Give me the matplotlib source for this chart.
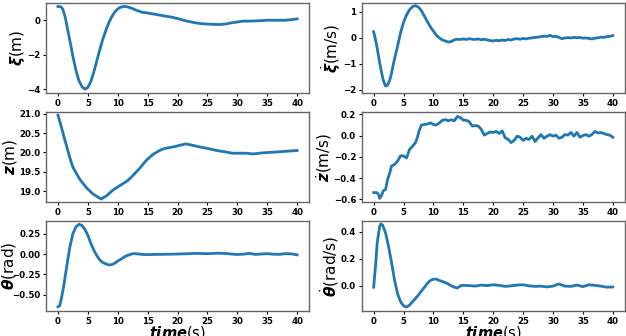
import matplotlib
matplotlib.use("Agg")
import matplotlib.pyplot as plt

# xi (m)
t_xi = [0, 0.5, 0.8, 1.2, 1.6, 2, 2.5, 3, 3.5, 4, 4.5, 5, 5.5, 6, 6.5, 7, 7.5, 8, 8.5, 9,
        9.5, 10, 10.5, 11, 11.5, 12, 13, 14, 15, 16, 17, 18, 19, 20, 21, 22, 23, 24, 25,
        26, 27, 28, 29, 30, 31, 32, 33, 34, 35, 36, 37, 38, 39, 40]
xi = [0.80, 0.78, 0.65, 0.2, -0.5, -1.2, -2.1, -2.9, -3.5, -3.85, -4.0, -3.9, -3.55, -3.0,
      -2.35, -1.7, -1.1, -0.6, -0.15, 0.2, 0.48, 0.66, 0.76, 0.80, 0.79, 0.74, 0.6, 0.47,
      0.42, 0.36, 0.3, 0.24, 0.18, 0.1, 0.0, -0.08, -0.15, -0.2, -0.22, -0.24, -0.25, -0.22,
      -0.15, -0.1, -0.05, -0.05, -0.04, -0.02, 0.0, 0.0, 0.0, 0.0, 0.03, 0.08]

# xi dot (m/s)
t_xid = [0, 0.3, 0.6, 1.0, 1.3, 1.6, 2.0, 2.3, 2.7, 3.0, 3.3, 3.6, 4.0, 4.5, 5.0, 5.5, 6.0,
         6.5, 7.0, 7.5, 8.0, 8.5, 9.0, 9.5, 10.0, 10.5, 11.0, 11.5, 12.0, 12.5, 13.0, 13.5,
         14.0, 14.5, 15, 15.5, 16, 16.5, 17, 17.5, 18, 18.5, 19, 19.5, 20, 20.5, 21, 21.5,
         22, 22.5, 23, 23.5, 24, 24.5, 25, 25.5, 26, 26.5, 27, 27.5, 28, 28.5, 29, 29.5, 30,
         30.5, 31, 31.5, 32, 32.5, 33, 33.5, 34, 34.5, 35, 35.5, 36, 36.5, 37, 37.5, 38, 38.5,
         39, 39.5, 40]
xid = [0.24, -0.05, -0.4, -0.95, -1.3, -1.62, -1.85, -1.82, -1.62, -1.35, -1.0, -0.7, -0.32,
       0.2, 0.6, 0.88, 1.08, 1.2, 1.24, 1.18, 1.04, 0.83, 0.62, 0.42, 0.26, 0.1, 0.0, -0.08,
       -0.12, -0.16, -0.14, -0.07, -0.05, -0.06, -0.04, -0.06, -0.03, -0.05, -0.06, -0.04,
       -0.07, -0.05, -0.08, -0.1, -0.12, -0.09, -0.11, -0.08, -0.10, -0.06, -0.08, -0.04,
       -0.03, -0.05, -0.02, -0.04, -0.01, 0.0, 0.02, 0.03, 0.05, 0.07, 0.06, 0.1, 0.05, 0.06,
       0.02, -0.03, 0.0, 0.01, 0.0, 0.02, 0.01, 0.02, -0.01, 0.0, -0.02, -0.04, -0.01, 0.0,
       0.03, 0.02, 0.05, 0.06, 0.09]

# z (m)
t_z = [0, 0.56, 1.1, 1.95, 2.5, 3.6, 4.7, 5.85, 7.2, 8.1, 9.2, 10.9, 11.7, 12.5, 13.6, 14.8,
       15.9, 17, 17.8, 19.2, 20.3, 21.4, 22.6, 23.7, 24.8, 26.5, 28.1, 29.2, 31.5, 32.6, 34.3,
       36.5, 38.2, 40]
z = [20.96, 20.66, 20.35, 19.88, 19.62, 19.32, 19.1, 18.93, 18.8, 18.88, 19.03, 19.2, 19.28,
     19.4, 19.58, 19.8, 19.95, 20.05, 20.1, 20.14, 20.18, 20.22, 20.18, 20.14, 20.11, 20.05,
     20.01, 19.98, 19.98, 19.96, 19.99, 20.01, 20.03, 20.05]

# z dot (m/s)
t_zd = [0, 0.5, 0.8, 1, 1.3, 1.6, 2, 2.3, 2.7, 3, 3.5, 4, 4.5, 5, 5.5, 6, 6.5, 7, 7.3, 7.6, 8,
        8.5, 9, 9.5, 10, 10.5, 11, 11.5, 12, 12.5, 13, 13.5, 14, 14.5, 15, 15.5, 16, 16.5, 17,
        17.5, 18, 18.5, 19, 19.5, 20, 20.5, 21, 21.5, 22, 22.5, 23, 23.5, 24, 24.5, 25, 25.5,
        26, 26.5, 27, 27.5, 28, 28.5, 29, 29.5, 30, 30.5, 31, 31.5, 32, 32.5, 33, 33.5, 34,
        34.5, 35, 35.5, 36, 36.5, 37, 37.5, 38, 38.5, 39, 39.5, 40]
zd = [-0.535, -0.535, -0.55, -0.59, -0.565, -0.52, -0.505, -0.42, -0.35, -0.285, -0.27, -0.24,
      -0.19, -0.19, -0.21, -0.13, -0.1, -0.065, -0.02, 0.045, 0.1, 0.105, 0.11, 0.12, 0.105,
      0.1, 0.12, 0.145, 0.15, 0.14, 0.15, 0.14, 0.18, 0.17, 0.145, 0.145, 0.13, 0.09, 0.095,
      0.09, 0.06, 0.005, 0.02, 0.035, 0.03, 0.04, 0.02, 0.045, -0.02, -0.035, -0.065, -0.045,
      -0.005, -0.015, -0.045, -0.025, -0.035, -0.005, -0.055, -0.02, 0.01, -0.025, -0.005,
      0.01, -0.005, 0.005, -0.025, -0.015, 0.01, 0.005, 0.03, -0.005, 0.03, -0.015, 0.0, 0.01,
      -0.005, 0.01, 0.04, 0.025, 0.03, 0.02, 0.01, 0.005, -0.015]

# theta (rad)
t_th = [0, 0.3, 0.6, 1, 1.5, 2, 2.5, 3, 3.5, 4, 4.5, 5, 5.5, 6, 6.5, 7, 7.5, 8, 8.5, 9, 9.5,
        10, 10.5, 11, 11.5, 12, 12.5, 13, 14, 15, 16, 17, 18, 19, 20, 21, 22, 23, 24, 25, 26,
        27, 28, 29, 30, 31, 32, 33, 34, 35, 36, 37, 38, 39, 40]
th = [-0.645, -0.63, -0.535, -0.375, -0.133, 0.09, 0.25, 0.33, 0.363, 0.35, 0.3, 0.23, 0.13,
      0.048, -0.02, -0.073, -0.105, -0.12, -0.133, -0.13, -0.113, -0.085, -0.065, -0.04, -0.02,
      -0.008, 0.004, 0.004, -0.004, -0.008, -0.005, -0.004, -0.003, -0.002, 0.0, 0.002, 0.005,
      0.008, 0.006, 0.004, 0.008, 0.01, 0.007, 0.0, -0.006, -0.002, 0.008, -0.005, 0.0, 0.004,
      -0.002, -0.004, 0.004, 0.002, -0.01]

# theta dot (rad/s)
t_thd = [0, 0.3, 0.6, 1, 1.2, 1.5, 2, 2.5, 3, 3.5, 4, 4.5, 5, 5.5, 6, 6.5, 7, 7.5, 8, 8.5, 9,
         9.5, 10, 10.5, 11, 11.5, 12, 12.5, 13, 13.5, 14, 14.5, 15, 16, 17, 18, 19, 20, 21, 22,
         23, 24, 25, 26, 27, 28, 29, 30, 31, 32, 33, 34, 35, 36, 37, 38, 39, 40]
thd = [-0.012, 0.14, 0.32, 0.44, 0.458, 0.45, 0.39, 0.29, 0.17, 0.04, -0.06, -0.12, -0.15,
       -0.16, -0.145, -0.12, -0.095, -0.07, -0.04, -0.012, 0.018, 0.038, 0.048, 0.048, 0.038,
       0.03, 0.022, 0.012, -0.002, -0.012, -0.018, -0.002, 0.002, 0.0, -0.004, 0.004, 0.0,
       0.006, 0.002, -0.006, -0.002, 0.004, 0.006, -0.002, -0.006, -0.004, -0.01, -0.004,
       0.012, -0.004, -0.006, 0.004, -0.008, 0.006, 0.002, -0.004, -0.012, -0.01]

panels = [
    (t_xi, xi, r'$\boldsymbol{\xi}$(m)', (-4.23, 1.0), [-4, -2, 0], '{:.0f}'),
    (t_xid, xid, r'$\dot{\boldsymbol{\xi}}$(m/s)', (-2.12, 1.34), [-2, -1, 0, 1], '{:.0f}'),
    (t_z, z, r'$\boldsymbol{z}$(m)', (18.72, 21.04), [19.0, 19.5, 20.0, 20.5, 21.0], '{:.1f}'),
    (t_zd, zd, r'$\dot{\boldsymbol{z}}$(m/s)', (-0.625, 0.222), [-0.6, -0.4, -0.2, 0.0, 0.2], '{:.1f}'),
    (t_th, th, r'$\boldsymbol{\theta}$(rad)', (-0.698, 0.403), [-0.5, -0.25, 0.0, 0.25], '{:.2f}'),
    (t_thd, thd, r'$\dot{\boldsymbol{\theta}}$(rad/s)', (-0.19, 0.48), [0.0, 0.2, 0.4], '{:.1f}'),
]

fig, axes = plt.subplots(3, 2, figsize=(6.26, 3.36), dpi=100)
fig.subplots_adjust(left=0.0735, right=0.998, bottom=0.074, top=0.991, hspace=0.21, wspace=0.2)

for ax, (t, y, lab, lim, ticks, fmt) in zip(axes.flat, panels):
    ax.plot(t, y, color='#1f77b4', lw=2)
    ax.set_xlim(-2, 42)
    ax.set_ylim(*lim)
    ax.set_xticks(range(0, 41, 5))
    ax.set_yticks(ticks)
    ax.set_yticklabels([fmt.format(v).replace('-', '\u2212') for v in ticks])
    ax.set_ylabel(lab, fontsize=11, labelpad=0)
    ax.tick_params(labelsize=6.2, length=2.5, width=0.8, pad=1.5)
    for lbl in ax.get_xticklabels() + ax.get_yticklabels():
        lbl.set_fontweight('bold')
    for s in ax.spines.values():
        s.set_color('#666666')
        s.set_linewidth(1)

# the theta label sits right against the left edge
axes[2, 0].yaxis.set_label_coords(-0.107, 0.5)

for ax in axes[2]:
    ax.set_xlabel(r'$\boldsymbol{time}$(s)', fontsize=10.5, labelpad=-1.5)

fig.savefig('out.png', dpi=100)
